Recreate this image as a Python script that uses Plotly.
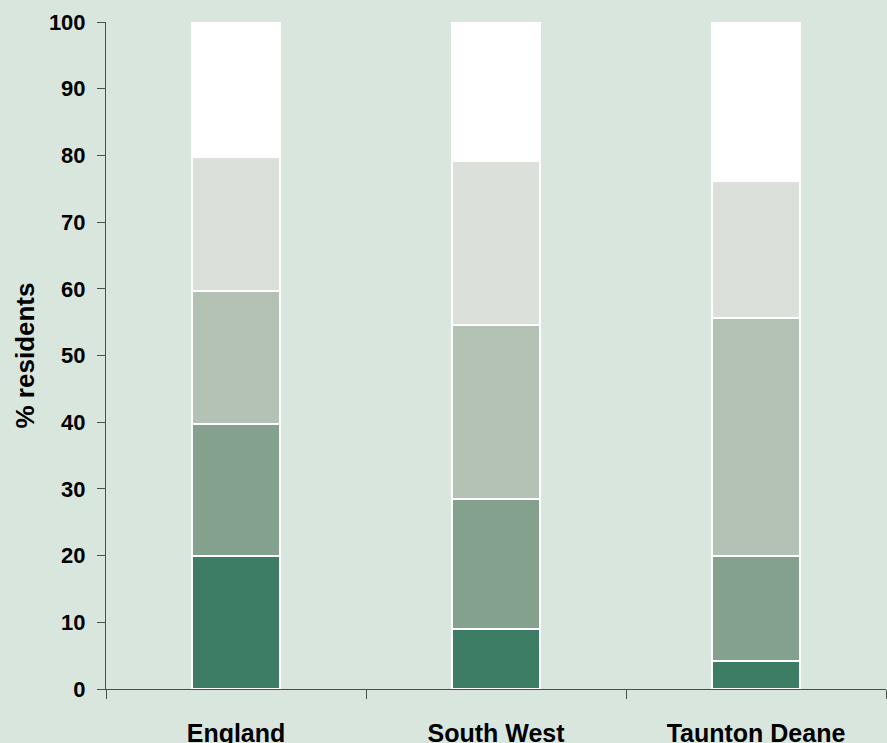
import plotly.graph_objects as go

categories = ["England", "South West", "Taunton Deane"]
series_names = ["Quintile 1 (most deprived)", "Quintile 2", "Quintile 3", "Quintile 4", "Quintile 5 (least deprived)"]
q1 = [19.9, 9.0, 4.2]
q2 = [19.8, 19.5, 15.7]
q3 = [19.9, 26.1, 35.7]
q4 = [20.1, 24.6, 20.6]
q5 = [20.3, 20.8, 23.8]
y_ticks = [0, 10, 20, 30, 40, 50, 60, 70, 80, 90, 100]

colors = ["#3d7d65", "#83a18c", "#b3c2b5", "#dce0db", "#ffffff"]
series = [q1, q2, q3, q4, q5]

fig = go.Figure()
for name, vals, col in zip(series_names, series, colors):
    fig.add_trace(go.Bar(
        x=categories, y=vals, name=name,
        marker=dict(color=col, line=dict(color="#ffffff", width=2)),
        width=0.34,
    ))

bg = "#d9e6dd"
fig.update_layout(
    barmode="stack",
    width=887, height=743,
    paper_bgcolor=bg, plot_bgcolor=bg,
    showlegend=False,
    margin=dict(l=106, r=1, t=22, b=54),
    font=dict(family="Liberation Sans, Arial, sans-serif", color="#000000"),
    xaxis=dict(
        tickson="boundaries", ticks="outside", ticklen=9, tickcolor="#4a4f4a",
        showline=True, linecolor="#4a4f4a", linewidth=1,
        tickfont=dict(size=25, family="Liberation Sans, Arial, sans-serif"),
        ticklabelstandoff=22, automargin=False,
        showgrid=False, zeroline=False,
        tickvals=categories,
        ticktext=["<b>" + c + "</b>" for c in categories],
    ),
    yaxis=dict(
        range=[0, 100], tickvals=y_ticks,
        ticktext=["<b>%d</b>" % v for v in y_ticks],
        ticks="outside", ticklen=8, tickcolor="#4a4f4a",
        showline=True, linecolor="#4a4f4a", linewidth=1,
        tickfont=dict(size=22, family="Liberation Sans, Arial, sans-serif"),
        ticklabelstandoff=7, automargin=False,
        showgrid=False, zeroline=False,
        title=dict(text="<b>% residents</b>", font=dict(size=26), standoff=6),
    ),
)

fig.write_html("out.html", config={"displayModeBar": False},
               post_script="document.body.style.margin='0';document.body.style.overflow='hidden';")
